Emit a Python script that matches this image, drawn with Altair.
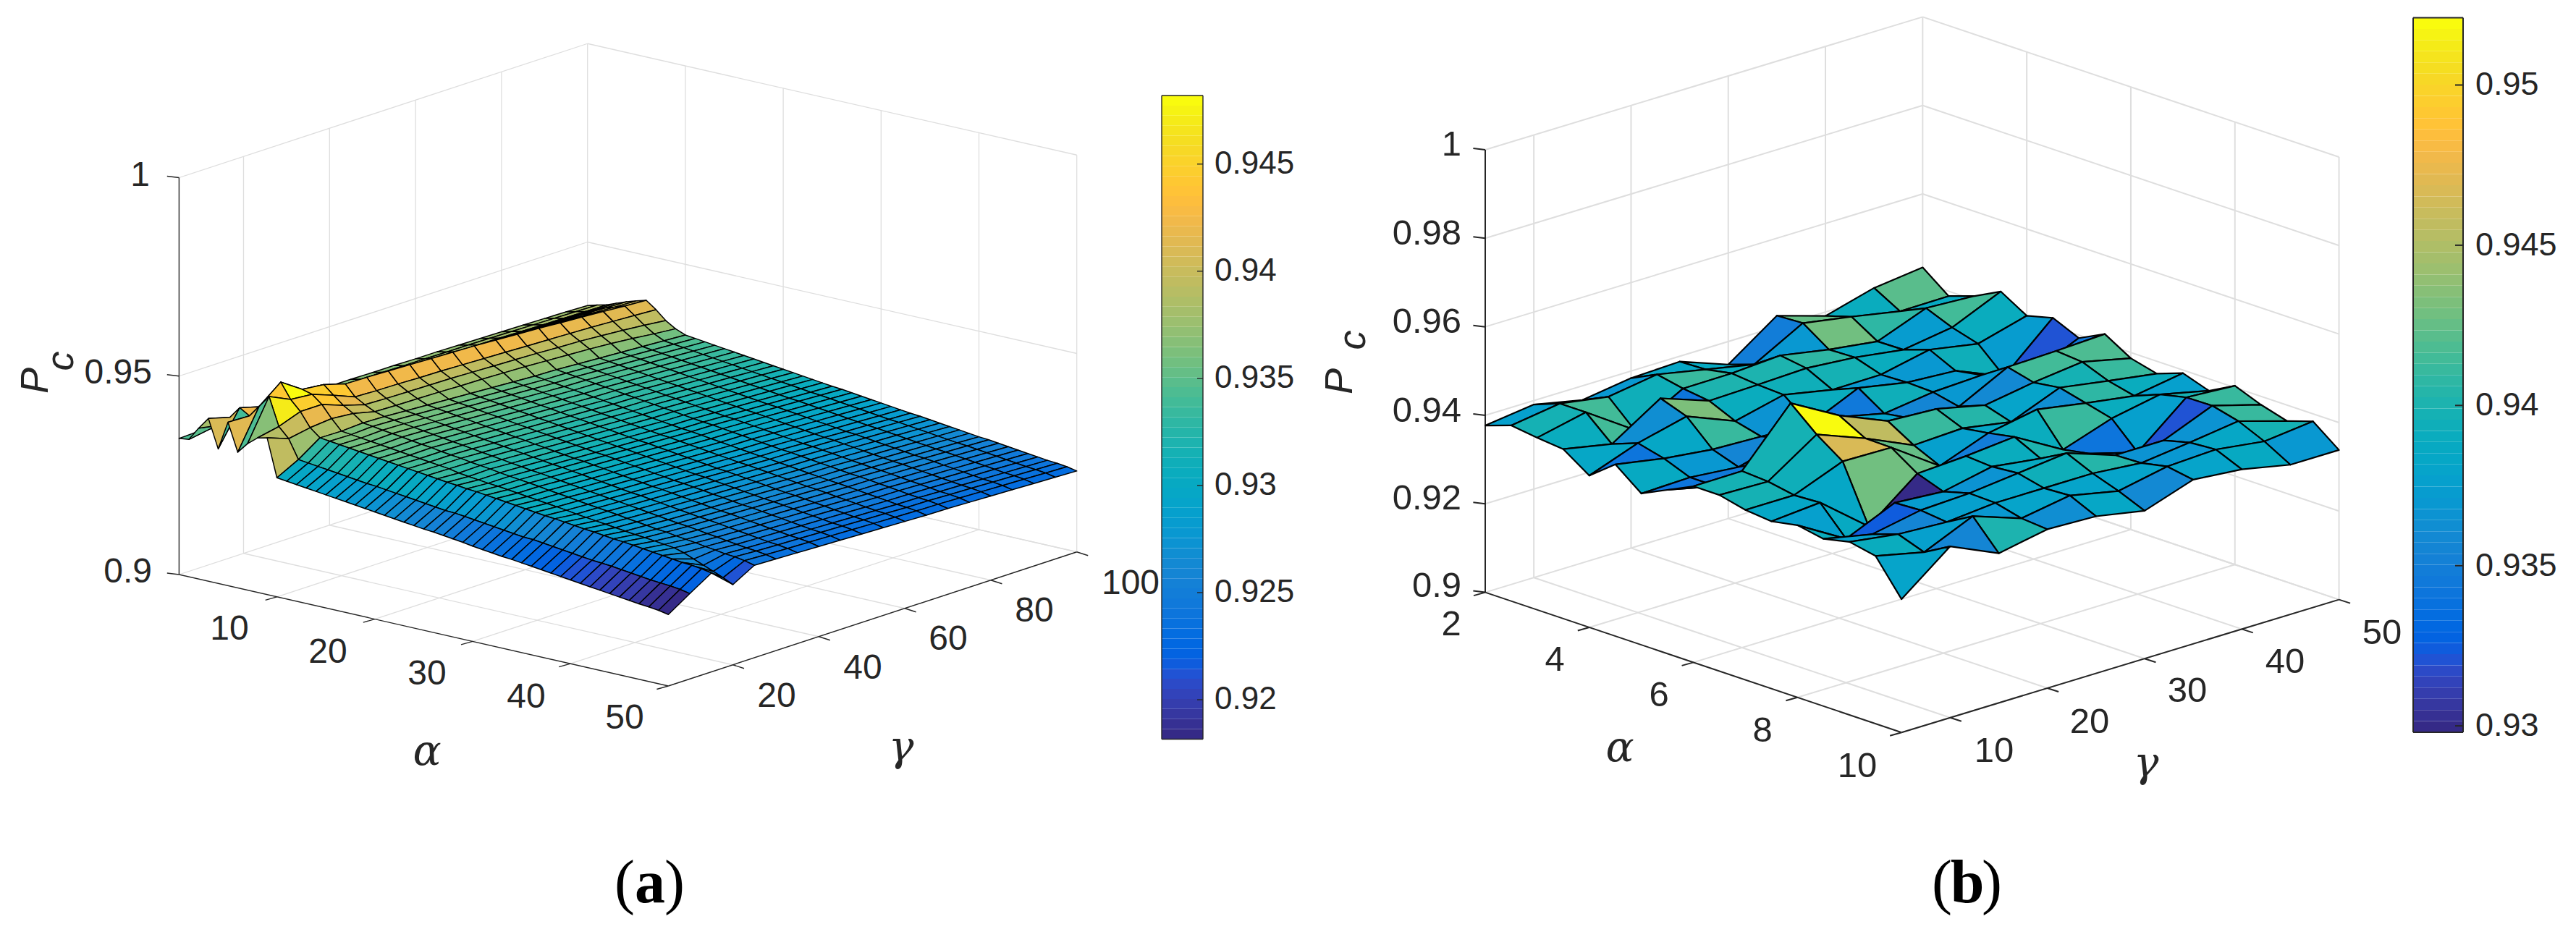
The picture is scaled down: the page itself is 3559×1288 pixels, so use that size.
import altair as alt

W, H = 3543, 1272

PARULA = [
 (0.2081,0.1663,0.5292),(0.2116,0.1898,0.5777),(0.2123,0.2138,0.6270),(0.2081,0.2386,0.6771),(0.1959,0.2645,0.7279),(0.1707,0.2919,0.7792),(0.1253,0.3242,0.8303),(0.0591,0.3598,0.8683),
 (0.0117,0.3875,0.8820),(0.0060,0.4086,0.8828),(0.0165,0.4266,0.8786),(0.0329,0.4430,0.8720),(0.0498,0.4586,0.8641),(0.0629,0.4737,0.8554),(0.0723,0.4887,0.8467),(0.0779,0.5040,0.8384),
 (0.0793,0.5200,0.8312),(0.0749,0.5375,0.8263),(0.0641,0.5570,0.8240),(0.0488,0.5772,0.8228),(0.0343,0.5966,0.8199),(0.0265,0.6137,0.8135),(0.0239,0.6287,0.8038),(0.0231,0.6418,0.7913),
 (0.0228,0.6535,0.7768),(0.0267,0.6642,0.7607),(0.0384,0.6743,0.7436),(0.0590,0.6838,0.7254),(0.0843,0.6928,0.7062),(0.1133,0.7015,0.6859),(0.1453,0.7098,0.6646),(0.1801,0.7177,0.6424),
 (0.2178,0.7250,0.6193),(0.2586,0.7317,0.5954),(0.3022,0.7376,0.5712),(0.3482,0.7424,0.5473),(0.3953,0.7459,0.5244),(0.4420,0.7481,0.5033),(0.4871,0.7491,0.4840),(0.5300,0.7491,0.4661),
 (0.5709,0.7485,0.4494),(0.6099,0.7473,0.4337),(0.6473,0.7456,0.4188),(0.6834,0.7435,0.4044),(0.7184,0.7411,0.3905),(0.7525,0.7384,0.3768),(0.7858,0.7356,0.3633),(0.8185,0.7327,0.3498),
 (0.8507,0.7299,0.3360),(0.8824,0.7274,0.3217),(0.9139,0.7258,0.3063),(0.9450,0.7261,0.2886),(0.9739,0.7314,0.2666),(0.9938,0.7455,0.2403),(0.9990,0.7653,0.2164),(0.9955,0.7861,0.1967),
 (0.9880,0.8066,0.1794),(0.9789,0.8271,0.1633),(0.9697,0.8481,0.1475),(0.9626,0.8705,0.1309),(0.9589,0.8949,0.1132),(0.9598,0.9218,0.0948),(0.9661,0.9514,0.0755),(0.9763,0.9831,0.0538)]
PARULA_HEX = ["#%02x%02x%02x" % tuple(round(c * 255) for c in rgb) for rgb in PARULA]

# ---------- panel (a): values are P_c, stored as (P_c - 0.9) * 1e4 ----------
A_ALPHA = list(range(0, 51))
A_GAMMA = list(range(5, 101, 5))
# alpha = 0..9, one row per gamma (5..100)
A_LOW = [
 [343,346,380,410,339,412,342,369,389,395],
 [345,355,370,395,425,410,440,470,400,375],
 [345,350,365,385,410,445,483,445,420,385],
 [346,350,362,380,405,430,447,440,420,390],
 [346,352,365,385,410,430,441,420,400,385],
 [350,356,362,378,394,410,425,398,384,372],
 [350,356,362,377,392,408,424,396,382,370],
 [350,356,362,376,391,406,422,395,381,369],
 [350,355,361,375,390,405,420,393,380,368],
 [349,355,361,374,388,403,418,392,379,366],
 [349,354,360,373,387,401,416,390,377,365],
 [348,354,360,372,385,400,414,388,375,363],
 [348,353,359,371,384,397,411,386,373,361],
 [347,353,359,370,382,395,408,384,371,358],
 [346,352,358,369,381,393,405,382,368,355],
 [345,351,357,368,379,391,401,380,366,352],
 [344,350,356,367,378,388,398,378,362,348],
 [343,349,355,366,376,385,394,375,358,343],
 [342,348,354,364,374,382,390,372,353,337],
 [340,347,353,363,372,380,387,369,347,332]]
# alpha = 10..50 along the gamma = 100 edge
A_TREND = [322,319,316,313,310,307,304,301,298,295,292,289,286,283,280,277,275,272,269,266,263,
           260,257,254,252,249,246,243,240,237,234,232,229,226,223,220,217,214,212,209,204]
A_LIFT_G5 = [-22]*20 + [-23]*11 + [-24]*10
A_LIFT_G10 = [6]*8 + [7]*8 + [8]*8 + [9]*8 + [10]*5 + [11]*4
A_LIFT_G15 = [43]*14 + [44]*14 + [45]*13
A_LIFT_G20 = [42]*12 + [40]*12 + [38]*11 + [34,27,20,12,5,-2]
A_LIFT_G25 = [45,45,44,44,44,43,43,43,42,42,42,41,41,41,40,40,39,39,39,38,38,38,37,37,36,36,36,35,35,35,34,34,33,33,33,32,32,31,31,30,29]
A_LIFT_HIGH = [27,25,23,21,19,17,15,13,12,10,8,6,4,2,0]   # gamma 30..100
A_LIFT_WEIGHT = [1.60,1.58,1.57,1.55,1.54,1.52,1.51,1.49,1.48,1.46,1.45,1.43,1.42,1.40,1.39,1.37,1.36,1.34,1.33,1.31,1.30,
                 1.28,1.27,1.25,1.24,1.22,1.21,1.19,1.18,1.16,1.15,1.13,1.12,1.10,1.09,1.07,1.06,1.04,1.03,1.01,1.00]
A_COLOR_SHIFT = [0,0,0,0,0,0,1,2,3,4,6,8,10,12,14,16,18,20,22,24]
A_BACK_COLOR_SHIFT = [15,15,15]   # the green sliver behind the ridge, alpha = 0..2, gamma >= 30

# ---------- panel (b): one row per alpha index, one column per gamma ----------
B_ALPHA = [2 + 0.5 * i for i in range(17)]
B_GAMMA = list(range(5, 51, 5))
B_Z = [
 [377,391,368,384,388,348,425,391,421,434],
 [397,413,395,412,390,368,428,409,388,389],
 [389,413,340,400,401,408,388,373,415,409],
 [383,361,431,392,395,399,390,374,391,439],
 [343,383,410,366,392,370,371,394,374,404],
 [388,368,355,351,345,394,373,366,320,419],
 [342,345,335,365,381,356,371,376,345,393],
 [370,345,365,375,365,365,358,414,417,422],
 [398,399,519,458,412,406,381,399,412,387],
 [398,395,468,426,377,382,363,407,389,372],
 [384,384,427,425,350,391,411,392,375,393],
 [378,387,300,386,392,402,340,377,398,373],
 [389,325,373,365,388,373,351,320,411,404],
 [378,355,376,381,393,405,367,367,412,381],
 [391,375,369,379,379,379,369,382,397,364],
 [379,354,402,364,382,359,381,386,371,383],
 [301,387,338,359,355,334,371,361,338,338]]

A_Z_TICKS = [0.9, 0.95, 1.0]
A_A_TICKS = [10, 20, 30, 40, 50]
A_G_TICKS = [20, 40, 60, 80, 100]
B_Z_TICKS = [0.9, 0.92, 0.94, 0.96, 0.98, 1.0]
B_A_TICKS = [2, 4, 6, 8, 10]
B_G_TICKS = [10, 20, 30, 40, 50]
A_CB_TICKS = [0.92, 0.925, 0.93, 0.935, 0.94, 0.945]
B_CB_TICKS = [0.93, 0.935, 0.94, 0.945, 0.95]
A_CB_DOMAIN = (0.91816, 0.9482)
B_CB_DOMAIN = (0.9298, 0.9521)


def a_value(ia, ig):
    if ia < 10:
        return A_LOW[ig][ia]
    k = ia - 10
    if ig < 5:
        lift = [A_LIFT_G5, A_LIFT_G10, A_LIFT_G15, A_LIFT_G20, A_LIFT_G25][ig][k]
    else:
        lift = A_LIFT_HIGH[ig - 5] * A_LIFT_WEIGHT[k]
    return A_TREND[k] + lift


# view of each 3-D box (orthographic, read from its corners)
def proj_a(a, g, z):
    return (247.4 + 13.52 * a + 5.94 * (g - 5) - 8,
            794 + 3.08 * a - 1.95 * (g - 5) - 5485 * (z - 0.9) - 8)


def proj_b(a, g, z):
    return (2052 + 71.9 * (a - 2) + 13.43 * (g - 5) - 8,
            818.6 + 24.2 * (a - 2) - 4.08 * (g - 5) - 6116 * (z - 0.9) - 8)


def quad(proj, pts, v):
    ring = [list(proj(*p)) for p in pts]
    ring.append(ring[0])
    return {"type": "Feature", "properties": {"v": v},
            "geometry": {"type": "Polygon", "coordinates": [ring]}}


feat_a = []
for i in range(len(A_ALPHA) - 1):
    for j in range(len(A_GAMMA) - 2, -1, -1):
        f = lambda ii, jj: 0.9 + a_value(ii, jj) / 1e4
        a0, a1, g0, g1 = A_ALPHA[i], A_ALPHA[i + 1], A_GAMMA[j], A_GAMMA[j + 1]
        shift = A_COLOR_SHIFT[j] + (A_BACK_COLOR_SHIFT[i] if i < 3 and j >= 5 else 0)
        feat_a.append(quad(proj_a, [(a0, g0, f(i, j)), (a0, g1, f(i, j + 1)), (a1, g1, f(i + 1, j + 1)), (a1, g0, f(i + 1, j))],
                           f(i, j) + shift / 1e4))

feat_b = []
for i in range(len(B_ALPHA) - 1):
    for j in range(len(B_GAMMA) - 2, -1, -1):
        f = lambda ii, jj: 0.9 + B_Z[ii][jj] / 1e4
        a0, a1, g0, g1 = B_ALPHA[i], B_ALPHA[i + 1], B_GAMMA[j], B_GAMMA[j + 1]
        feat_b.append(quad(proj_b, [(a0, g0, f(i, j)), (a0, g1, f(i, j + 1)), (a1, g1, f(i + 1, j + 1)), (a1, g0, f(i + 1, j))], f(i, j)))


def box(proj, amin, amax, gmin, gmax, zmin, zmax, a_ticks, g_ticks, z_ticks, at, gt, zt):
    grid, axis = [], []
    def seg(lst, p, q):
        lst.append({"x": p[0], "y": p[1], "x2": q[0], "y2": q[1]})
    for z in z_ticks:
        seg(grid, proj(amin, gmin, z), proj(amin, gmax, z))
        seg(grid, proj(amin, gmax, z), proj(amax, gmax, z))
        p = proj(amin, gmin, z)
        seg(axis, p, (p[0] + zt[0], p[1] + zt[1]))
    for a in a_ticks:
        if a > amin:
            seg(grid, proj(a, gmin, zmin), proj(a, gmax, zmin))
            seg(grid, proj(a, gmax, zmin), proj(a, gmax, zmax))
        p = proj(a, gmin, zmin)
        seg(axis, p, (p[0] + at[0], p[1] + at[1]))
    for g in g_ticks:
        seg(grid, proj(amin, g, zmin), proj(amax, g, zmin))
        seg(grid, proj(amin, g, zmin), proj(amin, g, zmax))
        p = proj(amax, g, zmin)
        seg(axis, p, (p[0] + gt[0], p[1] + gt[1]))
    seg(axis, proj(amin, gmin, zmin), proj(amin, gmin, zmax))
    seg(axis, proj(amin, gmin, zmin), proj(amax, gmin, zmin))
    seg(axis, proj(amax, gmin, zmin), proj(amax, gmax, zmin))
    return grid, axis


grid_a, axis_a = box(proj_a, 0, 50, 5, 100, 0.9, 1.0, A_A_TICKS, A_G_TICKS, A_Z_TICKS, (-16, 4.5), (15.5, 5), (-16.6, -2))
grid_b, axis_b = box(proj_b, 2, 10, 5, 50, 0.9, 1.0, B_A_TICKS, B_G_TICKS, B_Z_TICKS, (-16, 4.5), (15.5, 5), (-16.6, -2))

xs = alt.X("x:Q", scale=alt.Scale(domain=[0, W], range=[0, W], nice=False, zero=False), axis=None)
ys = alt.Y("y:Q", scale=alt.Scale(domain=[0, H], range=[0, H], nice=False, zero=False), axis=None)


def segs(rows, color, width):
    return alt.Chart(alt.Data(values=rows)).mark_rule(color=color, strokeWidth=width).encode(
        x=xs, y=ys, x2="x2:Q", y2="y2:Q")


def surface(feats, dom, width):
    return alt.Chart(alt.Data(values=feats)).mark_geoshape(stroke="black", strokeWidth=width, strokeJoin="round").encode(
        color=alt.Color("properties.v:Q", scale=alt.Scale(type="quantize", domain=list(dom), range=PARULA_HEX), legend=None)
    ).project(type="identity", scale=1, translate=[0, 0])


def colorbar(x0, x1, top, bottom, dom, ticks, tick_len, width, label_x, size):
    lo, hi = dom
    to_y = lambda v: bottom + (top - bottom) * (v - lo) / (hi - lo) - 8
    n = len(PARULA_HEX)
    bands = []
    for k in range(n):
        v0, v1 = lo + (hi - lo) * k / n, lo + (hi - lo) * (k + 1) / n
        bands.append({"x": x0 - 8, "x2": x1 - 8, "y": to_y(v1), "y2": to_y(v0), "v": (v0 + v1) / 2})
    rect = alt.Chart(alt.Data(values=bands)).mark_rect().encode(
        x=xs, y=ys, x2="x2:Q", y2="y2:Q",
        color=alt.Color("v:Q", scale=alt.Scale(type="quantize", domain=list(dom), range=PARULA_HEX), legend=None))
    frame = []
    X0, X1, Tp, B = x0 - 8, x1 - 8, top - 8, bottom - 8
    for p, q in [((X0, Tp), (X1, Tp)), ((X1, Tp), (X1, B)), ((X1, B), (X0, B)), ((X0, B), (X0, Tp))]:
        frame.append({"x": p[0], "y": p[1], "x2": q[0], "y2": q[1]})
    for t in ticks:
        frame.append({"x": X1 - tick_len, "y": to_y(t), "x2": X1, "y2": to_y(t)})
    labels = [{"x": label_x - 8, "y": to_y(t), "t": ("%.3f" % t).rstrip("0")} for t in ticks]
    return [rect, segs(frame, "#262626", width), texts(labels, size, align="left")]


def texts(rows, size, font="Liberation Sans", style="normal", weight="normal", align="center", angle=0, color="#262626"):
    return alt.Chart(alt.Data(values=rows)).mark_text(
        font=font, fontSize=size, fontStyle=style, fontWeight=weight, align=align, baseline="middle", angle=angle, color=color
    ).encode(x=xs, y=ys, text="t:N")


def T(x, y, t):
    return {"x": x - 8, "y": y - 8, "t": t}


layers = [segs(grid_a, "#dedede", 1.3), segs(grid_b, "#dedede", 2.0),
          segs(axis_a, "#262626", 1.4), segs(axis_b, "#262626", 2.0),
          surface(feat_a, A_CB_DOMAIN, 1.5), surface(feat_b, B_CB_DOMAIN, 2.2)]
layers += colorbar(1605, 1662, 132, 1021.5, A_CB_DOMAIN, A_CB_TICKS, 8, 1.4, 1678, 44)
layers += colorbar(3334, 3403, 24.5, 1012, B_CB_DOMAIN, B_CB_TICKS, 11, 2.0, 3420, 45)
layers += [
    texts([T(207, 243, "1"), T(210, 516, "0.95"), T(210, 791, "0.9")], 48, align="right"),
    texts([T(317, 870, "10"), T(453, 902, "20"), T(590, 932, "30"), T(727, 964, "40"), T(863, 993, "50")], 48),
    texts([T(1073, 963, "20"), T(1192, 924, "40"), T(1310, 884, "60"), T(1429, 845, "80"), T(1562, 807, "100")], 48),
    texts([T(2019, 200, "1"), T(2019, 323, "0.98"), T(2019, 445, "0.96"), T(2019, 568, "0.94"), T(2019, 689, "0.92"), T(2019, 810, "0.9")], 49, align="right"),
    texts([T(2005, 863, "2"), T(2148, 912, "4"), T(2292, 961, "6"), T(2435, 1010, "8"), T(2566, 1059, "10")], 49),
    texts([T(2755, 1038, "10"), T(2887, 998, "20"), T(3022, 955, "30"), T(3157, 915, "40"), T(3291, 875, "50")], 49),
    texts([T(590, 1040, "α"), T(2238, 1035, "α")], 58, font="DejaVu Serif", style="italic"),
    texts([T(1245, 1034, "γ"), T(2965, 1056, "γ")], 58, font="DejaVu Serif", style="italic"),
    texts([T(50, 526, "P"), T(85, 499, "c"), T(1852, 527, "P"), T(1870, 470, "c")], 54, style="italic", angle=270),
    texts([T(863, 1222, "("), T(932, 1222, ")"), T(2683, 1222, "("), T(2752, 1222, ")")], 84, font="Liberation Serif", color="#000000"),
    texts([T(898, 1222, "a"), T(2718, 1222, "b")], 84, font="Liberation Serif", weight="bold", color="#000000"),
]

chart = alt.layer(*layers).resolve_scale(color="independent").properties(
    width=W, height=H, padding=0, background="white", autosize=alt.AutoSizeParams(type="none")
).configure_view(stroke=None)

chart.save("out.html", embed_options={"renderer": "svg", "actions": False})
